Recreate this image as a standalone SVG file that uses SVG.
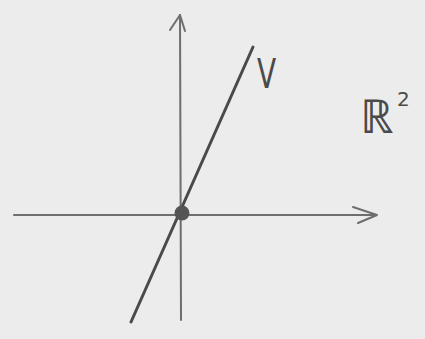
<svg xmlns="http://www.w3.org/2000/svg" width="425" height="339" viewBox="0 0 425 339">
<style>
.axis{stroke:#6e6e6e;stroke-width:2;fill:none;stroke-linecap:round;stroke-linejoin:round}
.line{stroke:#4a4a4a;stroke-width:3;fill:none;stroke-linecap:round}
.lbl{font-family:"DejaVu Sans",sans-serif;fill:#4a4a4a}
</style>
<rect width="425" height="339" fill="#ececec"/>
<g id="axes">
<path class="axis" d="M14 215 L376 215"/>
<path class="axis" stroke-width="3" d="M353 207 L377 215 L358 223"/>
<path class="axis" d="M181 320 L180 15"/>
<path class="axis" stroke-width="3" d="M170 30 L180 15 L185 31"/>
</g>
<g id="subspace">
<path class="line" d="M253 47 L131 322"/>
<circle cx="182" cy="213" r="7.5" fill="#555"/>
<text class="lbl" x="257" y="88" font-size="40" transform="translate(257 88) scale(0.7 1) translate(-257 -88)">V</text>
</g>
<g id="space">
<text class="lbl" x="360" y="133" font-size="47" font-weight="300">ℝ</text>
<text class="lbl" x="397" y="106" font-size="20">2</text>
</g>
</svg>
